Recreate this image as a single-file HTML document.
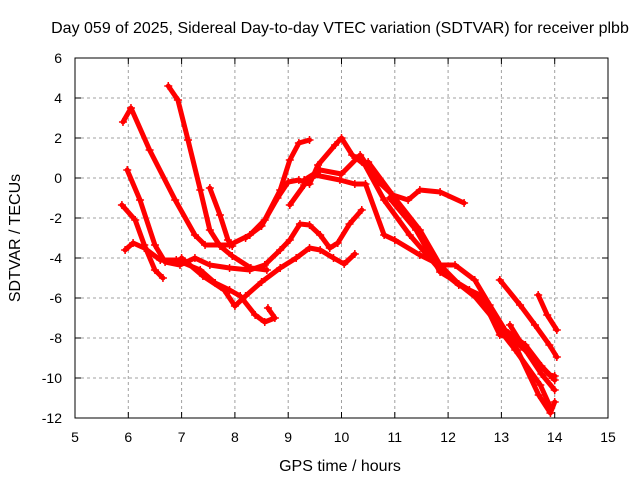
<!DOCTYPE html>
<html><head><meta charset="utf-8"><style>
body{margin:0;background:#fff;}
svg{display:block;font-family:"Liberation Sans",sans-serif;}
</style></head><body>
<svg id="chart" width="640" height="480" viewBox="0 0 640 480">
<rect width="640" height="480" fill="#fff"/>
<text x="340" y="33" font-size="16" text-anchor="middle">Day 059 of 2025, Sidereal Day-to-day VTEC variation (SDTVAR) for receiver plbb</text>
<g id="grid"></g>
<g id="axes"></g>
<g id="series"></g>
<text x="340" y="471" font-size="16" text-anchor="middle">GPS time / hours</text>
<text x="0" y="0" font-size="16" text-anchor="middle" transform="translate(20,238) rotate(-90)">SDTVAR / TECUs</text>
</svg>
<script>
const xTicks=[5,6,7,8,9,10,11,12,13,14,15];
const yTicks=[6,4,2,0,-2,-4,-6,-8,-10,-12];
const s1=[[5.9,2.8],[6.05,3.5],[6.4,1.4],[6.88,-1.1],[7.25,-2.85],[7.44,-3.35],[7.9,-3.35],[8.28,-2.85],[8.56,-2.1],[8.85,-0.6],[9.03,0.9],[9.2,1.75],[9.4,1.9]];
const s2=[[6.75,4.6],[6.93,3.9],[7.12,1.9],[7.35,-0.6],[7.53,-2.6],[7.72,-3.4],[7.95,-3.9],[8.3,-4.5],[8.6,-4.6]];
const s3=[[5.98,0.4],[6.22,-1.1],[6.5,-3.35],[6.69,-4.2],[6.97,-4.35],[7.25,-4.0],[7.53,-4.35],[7.9,-4.5],[8.28,-4.6],[8.56,-4.35],[8.85,-3.6],[9.03,-3.1],[9.22,-2.3],[9.4,-2.35],[9.6,-2.85],[9.78,-3.5],[9.93,-3.25],[10.15,-2.3],[10.38,-1.6]];
const s4=[[5.88,-1.35],[6.13,-2.1],[6.3,-3.35],[6.5,-4.6],[6.65,-5.0]];
const s5=[[5.94,-3.6],[6.09,-3.25],[6.3,-3.5],[6.6,-4.1],[6.9,-4.1],[7.35,-4.6],[7.63,-5.25],[7.9,-5.6],[8.1,-5.9],[8.38,-6.85],[8.56,-7.2],[8.75,-7.0],[8.62,-6.5]];
const s6=[[7.0,-4.0],[7.4,-4.9],[7.8,-5.6],[8.0,-6.4],[8.2,-5.9],[8.5,-5.2],[8.85,-4.5],[9.15,-4.0],[9.4,-3.5],[9.6,-3.6],[9.85,-4.0],[10.05,-4.3],[10.25,-3.8]];
const s7=[[7.53,-0.5],[7.72,-1.85],[7.87,-3.1],[7.95,-3.4]];
const s8=[[8.2,-3.0],[8.5,-2.4],[8.8,-1.0],[9.0,-0.2],[9.2,-0.1],[9.4,-0.3],[9.56,0.65],[9.88,1.65],[10.0,2.0],[10.2,1.15],[10.44,0.65],[10.8,-1.1],[11.28,-2.85],[11.85,-4.6],[12.2,-5.35],[12.6,-5.85],[12.97,-7.6],[13.26,-8.6],[13.73,-10.35],[13.9,-11.35]];
const s9=[[9.03,-1.35],[9.3,-0.35],[9.5,0.15],[9.97,-0.1],[10.25,-0.3],[10.45,-0.3],[10.8,-2.85],[11.0,-3.1],[11.47,-3.85],[11.85,-4.35],[12.2,-5.3],[12.7,-6.35],[12.97,-7.85],[13.2,-8.0],[13.54,-8.85],[13.9,-9.85],[14.0,-9.9]];
const s10=[[9.3,-0.1],[9.6,0.4],[10.0,0.2],[10.35,1.15],[10.7,-0.2],[10.96,-0.85],[11.25,-1.1],[11.47,-0.6],[11.85,-0.7],[12.3,-1.25]];
const s11=[[10.5,0.8],[11.0,-1.0],[11.47,-2.6],[11.85,-4.35],[12.13,-4.35],[12.5,-5.1],[12.78,-6.35],[13.07,-7.6],[13.45,-8.35],[13.75,-9.4],[14.0,-10.1]];
const s12=[[10.9,-1.0],[11.4,-2.6],[11.85,-4.7],[12.4,-5.6],[12.9,-7.2],[13.3,-8.6],[13.7,-10.85],[13.92,-11.75],[14.0,-11.2]];
const s13=[[12.97,-5.1],[13.35,-6.35],[13.63,-7.35],[13.9,-8.35],[14.04,-8.95]];
const s14=[[13.69,-5.85],[13.86,-6.85],[14.04,-7.6]];
const s15=[[13.16,-7.35],[13.45,-8.6],[13.75,-9.8],[14.0,-10.6]];
const allSeries=[s1,s2,s3,s4,s5,s6,s7,s8,s9,s10,s11,s12,s13,s14,s15];
const L=75,R=608,T=58,B=418,xmin=5,xmax=15,ymin=-12,ymax=6;
function xs(v){return L+(v-xmin)/(xmax-xmin)*(R-L);}
function ys(v){return B-(v-ymin)/(ymax-ymin)*(B-T);}
const NS="http://www.w3.org/2000/svg";
function mk(tag,attrs,parent){const e=document.createElementNS(NS,tag);for(const k in attrs)e.setAttribute(k,attrs[k]);parent.appendChild(e);return e;}
const grid=document.getElementById('grid'),axes=document.getElementById('axes'),ser=document.getElementById('series');
xTicks.forEach(t=>{
  if(t>xmin&&t<xmax){const g=mk('line',{x1:xs(t),x2:xs(t),y1:T,y2:B,stroke:'#a0a0a0','stroke-dasharray':'3,3'},grid);
  
  }
  mk('line',{x1:xs(t),x2:xs(t),y1:B,y2:B-6,stroke:'#000'},axes);
  mk('line',{x1:xs(t),x2:xs(t),y1:T,y2:T+6,stroke:'#000'},axes);
  const tx=mk('text',{x:xs(t),y:B+24,'font-size':14,'text-anchor':'middle'},axes);tx.textContent=t;
  
  
});
yTicks.forEach(t=>{
  if(t>ymin&&t<ymax){const g=mk('line',{x1:L,x2:R,y1:ys(t),y2:ys(t),stroke:'#a0a0a0','stroke-dasharray':'3,3'},grid);
  
  }
  mk('line',{x1:L,x2:L+6,y1:ys(t),y2:ys(t),stroke:'#000'},axes);
  mk('line',{x1:R,x2:R-6,y1:ys(t),y2:ys(t),stroke:'#000'},axes);
  const tx=mk('text',{x:L-13,y:ys(t)+5,'font-size':14,'text-anchor':'end'},axes);tx.textContent=t;
  
  
});
mk('rect',{x:L,y:T,width:R-L,height:B-T,fill:'none',stroke:'#000'},axes);
allSeries.forEach((s,i)=>{
  const pts=s.map(p=>xs(p[0]).toFixed(1)+','+ys(p[1]).toFixed(1)).join(' ');
  const pl=mk('polyline',{points:pts,fill:'none',stroke:'#ff0000','stroke-width':5,'stroke-linejoin':'round','stroke-linecap':'round'},ser);
  
  
  s.forEach(p=>{
    const x=xs(p[0]),y=ys(p[1]);
    const m=mk('path',{d:`M${x-4},${y}H${x+4}M${x},${y-4}V${y+4}`,stroke:'#ff0000','stroke-width':1.5},ser);
    
    
  });
});
</script>
</body></html>
